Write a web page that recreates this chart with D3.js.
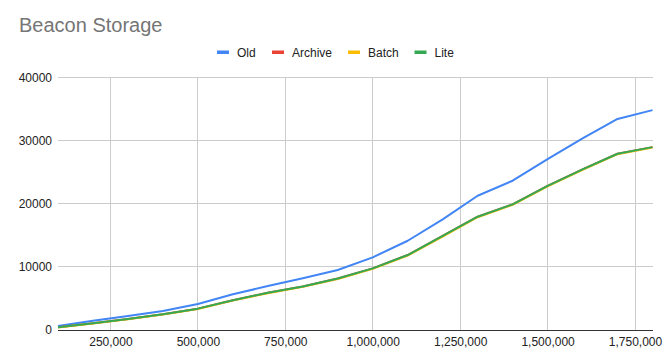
<!DOCTYPE html>
<html><head><meta charset="utf-8">
<script src="https://cdn.jsdelivr.net/npm/d3@7"></script>
<style>body{margin:0;background:#fff}svg{display:block}</style>
</head><body><div id="c"></div>
<script>
const sizes = [100000,200000,300000,400000,500000,600000,700000,800000,900000,1000000,1100000,1200000,1300000,1400000,1500000,1600000,1700000,1800000];
const oldVals     = [630,1480,2210,3000,4110,5650,6950,8180,9500,11500,14130,17500,21250,23630,27050,30330,33400,34800];
const archiveVals = [420,1050,1740,2480,3380,4720,5900,6900,8150,9760,11870,14900,17930,19890,22800,25420,27900,28950];
const batchVals   = [400,1020,1700,2440,3330,4660,5830,6830,8070,9680,11780,14800,17850,19820,22720,25350,27830,28900];
const liteVals    = [420,1050,1740,2480,3380,4720,5900,6900,8150,9760,11870,14900,17930,19890,22800,25420,27900,28950];
const seriesNames = ["Old","Archive","Batch","Lite"];
const seriesColors = ["#4285F4","#EA4335","#FBBC04","#34A853"];
const xTicks = [250000,500000,750000,1000000,1250000,1500000,1750000];
const yTicks = [0,10000,20000,30000,40000];

const W=671,H=363;
const svg=d3.select("#c").append("svg").attr("width",W).attr("height",H);
const x=d3.scaleLinear().domain([100000,1800000]).range([58,652.5]);
const y=d3.scaleLinear().domain([0,40000]).range([330,77.3]);
const FONT="'Liberation Sans', Arial, sans-serif";

svg.append("text").attr("x",19).attr("y",31.5).text("Beacon Storage")
  .attr("font-family",FONT).attr("font-size",20).attr("fill","#757575");

// gridlines
svg.append("g").selectAll("line").data(yTicks.filter(d=>d>0)).join("line")
  .attr("x1",58).attr("x2",652.5).attr("y1",d=>y(d)).attr("y2",d=>y(d))
  .attr("stroke","#cccccc").attr("stroke-width",1).attr("shape-rendering","crispEdges");
svg.append("g").selectAll("line").data(xTicks).join("line")
  .attr("x1",d=>x(d)).attr("x2",d=>x(d)).attr("y1",77.3).attr("y2",330)
  .attr("stroke","#cccccc").attr("stroke-width",1).attr("shape-rendering","crispEdges");

// axes labels
const yAxis=d3.axisLeft(y).tickValues(yTicks).tickSize(0).tickPadding(6).tickFormat(d3.format("d"));
const gy=svg.append("g").attr("transform","translate(58,0)").call(yAxis);
gy.select(".domain").remove();
gy.selectAll("text").attr("font-family",FONT).attr("font-size",12).attr("fill","#222");

const xAxis=d3.axisBottom(x).tickValues(xTicks).tickSize(0).tickPadding(7).tickFormat(d3.format(","));
const gx=svg.append("g").attr("transform","translate(0,330)").call(xAxis);
gx.select(".domain").remove();
gx.selectAll("text").attr("font-family",FONT).attr("font-size",12).attr("fill","#222");

const allVals=[oldVals,archiveVals,batchVals,liteVals];
const line=d3.line().x((d,i)=>x(sizes[i])).y(d=>y(d));
allVals.forEach((vals,k)=>{
  svg.append("path").datum(vals).attr("d",line).attr("fill","none")
    .attr("stroke",seriesColors[k]).attr("stroke-width",2).attr("stroke-linejoin","round");
});

// baseline
svg.append("line").attr("x1",58).attr("x2",652.5).attr("y1",330).attr("y2",330)
  .attr("stroke","#333").attr("stroke-width",1).attr("shape-rendering","crispEdges");

// legend
const legX=[217,272,348,414.5];
const lg=svg.append("g");
seriesNames.forEach((n,k)=>{
  lg.append("rect").attr("x",legX[k]).attr("y",50.5).attr("width",12).attr("height",3.5).attr("fill",seriesColors[k]);
  lg.append("text").attr("x",legX[k]+20).attr("y",56.5).text(n)
    .attr("font-family",FONT).attr("font-size",12).attr("fill","#222");
});
</script></body></html>
